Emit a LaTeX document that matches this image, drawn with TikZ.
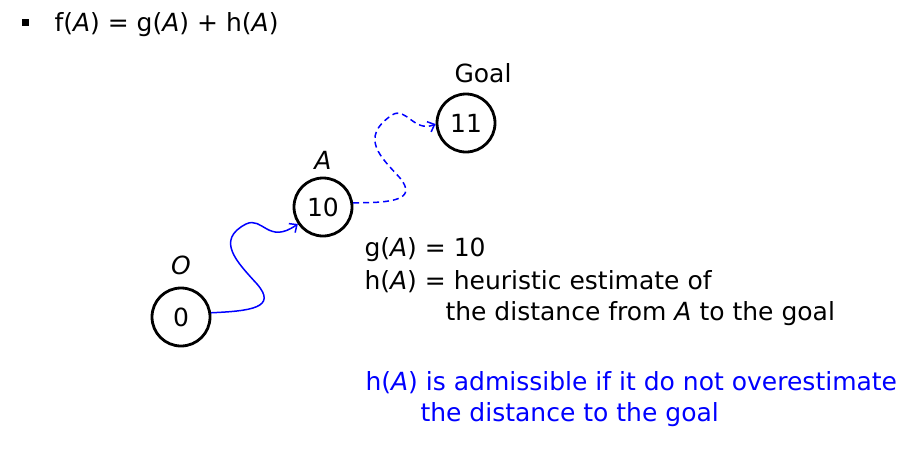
\documentclass[tikz,border=0pt]{standalone}
\usepackage{fontspec}
\setmainfont{DejaVu Sans}
\usetikzlibrary{arrows.meta, positioning}

\newcommand{\va}{\textit{A}}

\begin{document}
\begin{tikzpicture}[x=1pt, y=-1pt, line width=1pt, font=\fontsize{25}{28}\selectfont,
    state/.style={circle, draw, line width=2.8pt, minimum size=58pt, inner sep=0pt},
    route/.style={blue, line width=1.5pt, -{Straight Barb[length=6pt, width=11pt]}},
    note/.style={anchor=west, inner sep=0pt}]
    \useasboundingbox (0,0) rectangle (920,469);

    % Formula
    \node[fill, minimum size=7pt, inner sep=0pt] (bullet) at (25,22) {};
    \node[note] (formula) at (54,25) {f(\va) = g(\va) + h(\va)};

    % Nodes
    \node[state] (o) at (181,317) {0};
    \node[state] (a) at (323,207) {10};
    \node[state] (goal) at (466,123) {11};
    \node (olabel) at (181,265) {\textit{O}};
    \node (alabel) at (323,160) {\va};
    \node (goallabel) at (483,73) {Goal};

    % Paths
    \draw[route] (o.8) .. controls (250,311) and (278,308) .. (257,284)
                       .. controls (237,262) and (215,240) .. (246,224)
                       .. controls (263,216) and (268,245) .. (a.214);
    \draw[route, dash pattern=on 6pt off 4pt] (a.8) .. controls (392,203) and (418,200) .. (400,178)
                       .. controls (382,158) and (358,138) .. (392,115)
                       .. controls (406,106) and (414,133) .. (goal.182);

    % Text
    \node[note] (g) at (364,250) {g(\va) = 10};
    \node[note] (h) at (364,282) {h(\va) = heuristic estimate of};
    \node[note] (h2) at (445,314) {the distance from \va{} to the goal};
    \node[note, blue] (adm) at (365,383) {h(\va) is admissible if it do not overestimate};
    \node[note, blue] (adm2) at (420,415) {the distance to the goal};
\end{tikzpicture}
\end{document}
